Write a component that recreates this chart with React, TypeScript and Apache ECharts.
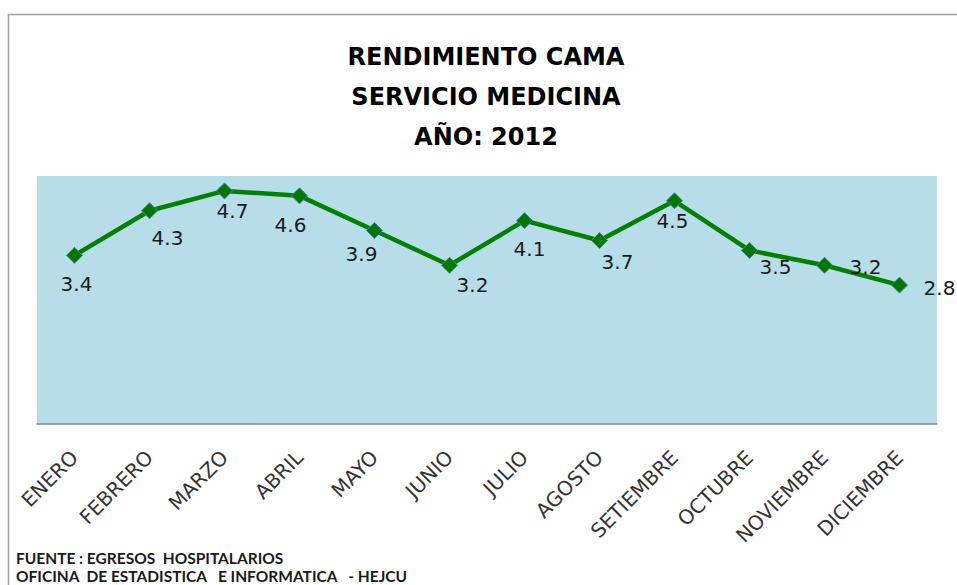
import React, { useEffect, useRef } from "react";
import * as echarts from "echarts";

const months = [
  "ENERO", "FEBRERO", "MARZO", "ABRIL", "MAYO", "JUNIO",
  "JULIO", "AGOSTO", "SETIEMBRE", "OCTUBRE", "NOVIEMBRE", "DICIEMBRE",
];
const rendimiento = [3.4, 4.3, 4.7, 4.6, 3.9, 3.2, 4.1, 3.7, 4.5, 3.5, 3.2, 2.8];
const titleLines = ["RENDIMIENTO CAMA", "SERVICIO MEDICINA", "AÑO: 2012"];
const footerLines = [
  "FUENTE : EGRESOS  HOSPITALARIOS",
  "OFICINA  DE ESTADISTICA   E INFORMATICA   - HEJCU",
];
// label offsets (px) relative to each marker, as placed in the original chart
const labelDx = [2, 18, 8, -9, -13, 23, 5, 18, -2, 26, 41, 40];
const labelDy = [29, 27, 20, 29, 23, 20, 28, 22, 20, 17, 2, 3];

export default function App() {
  const ref = useRef<HTMLDivElement>(null);
  useEffect(() => {
    if (!ref.current) return;
    const chart = echarts.init(ref.current, undefined, { renderer: "svg" });
    const data = rendimiento.map((v, i) => ({
      value: v,
      label: { offset: [labelDx[i], labelDy[i]] },
    }));
    chart.setOption({
      animation: false,
      backgroundColor: "#ffffff",
      graphic: [
        {
          type: "rect",
          shape: { x: 8.5, y: 14.5, width: 980, height: 620 },
          style: { fill: "none", stroke: "#a0a0a0", lineWidth: 1.5 },
          z: 0,
        },
        ...titleLines.map((t, i) => ({
          type: "text",
          x: 486,
          y: 57 + i * 40,
          style: {
            text: t,
            textAlign: "center",
            textVerticalAlign: "middle",
            fontFamily: "DejaVu Sans",
            fontWeight: "bold",
            fontSize: 24,
            fill: "#000000",
          },
        })),
        ...footerLines.map((t, i) => ({
          type: "text",
          x: 16,
          y: 558 + i * 18,
          style: {
            text: t,
            textAlign: "left",
            textVerticalAlign: "middle",
            fontFamily: "Lato",
            fontWeight: "bold",
            fontSize: 15.5,
            fill: "#1a1a1a",
          },
        })),
      ],
      grid: {
        left: 37,
        top: 176,
        width: 900,
        height: 248,
        show: true,
        backgroundColor: "#b7dde8",
        borderWidth: 0,
        containLabel: false,
      },
      xAxis: {
        type: "category",
        data: months,
        boundaryGap: true,
        axisLine: { show: true, lineStyle: { color: "#888888", width: 1.5 } },
        axisTick: { show: false },
        axisLabel: {
          interval: 0,
          rotate: 45,
          margin: 30,
          fontFamily: "DejaVu Sans",
          fontSize: 20,
          color: "#333333",
        },
        splitLine: { show: false },
      },
      yAxis: {
        type: "value",
        min: 0,
        max: 5,
        show: false,
        splitLine: { show: false },
      },
      series: [
        {
          type: "line",
          data,
          lineStyle: { color: "#008000", width: 4.5 },
          symbol: "diamond",
          symbolSize: 16,
          itemStyle: { color: "#007800", borderColor: "#4a7f9f", borderWidth: 1 },
          label: {
            show: true,
            position: "inside",
            fontFamily: "DejaVu Sans",
            fontSize: 20,
            color: "#1a1a1a",
            formatter: (p: any) => p.value.toFixed(1),
          },
        },
      ],
    });
    return () => chart.dispose();
  }, []);
  return (
    <div
      ref={ref}
      style={{ position: "fixed", left: 0, top: 0, width: 957, height: 585 }}
    />
  );
}
